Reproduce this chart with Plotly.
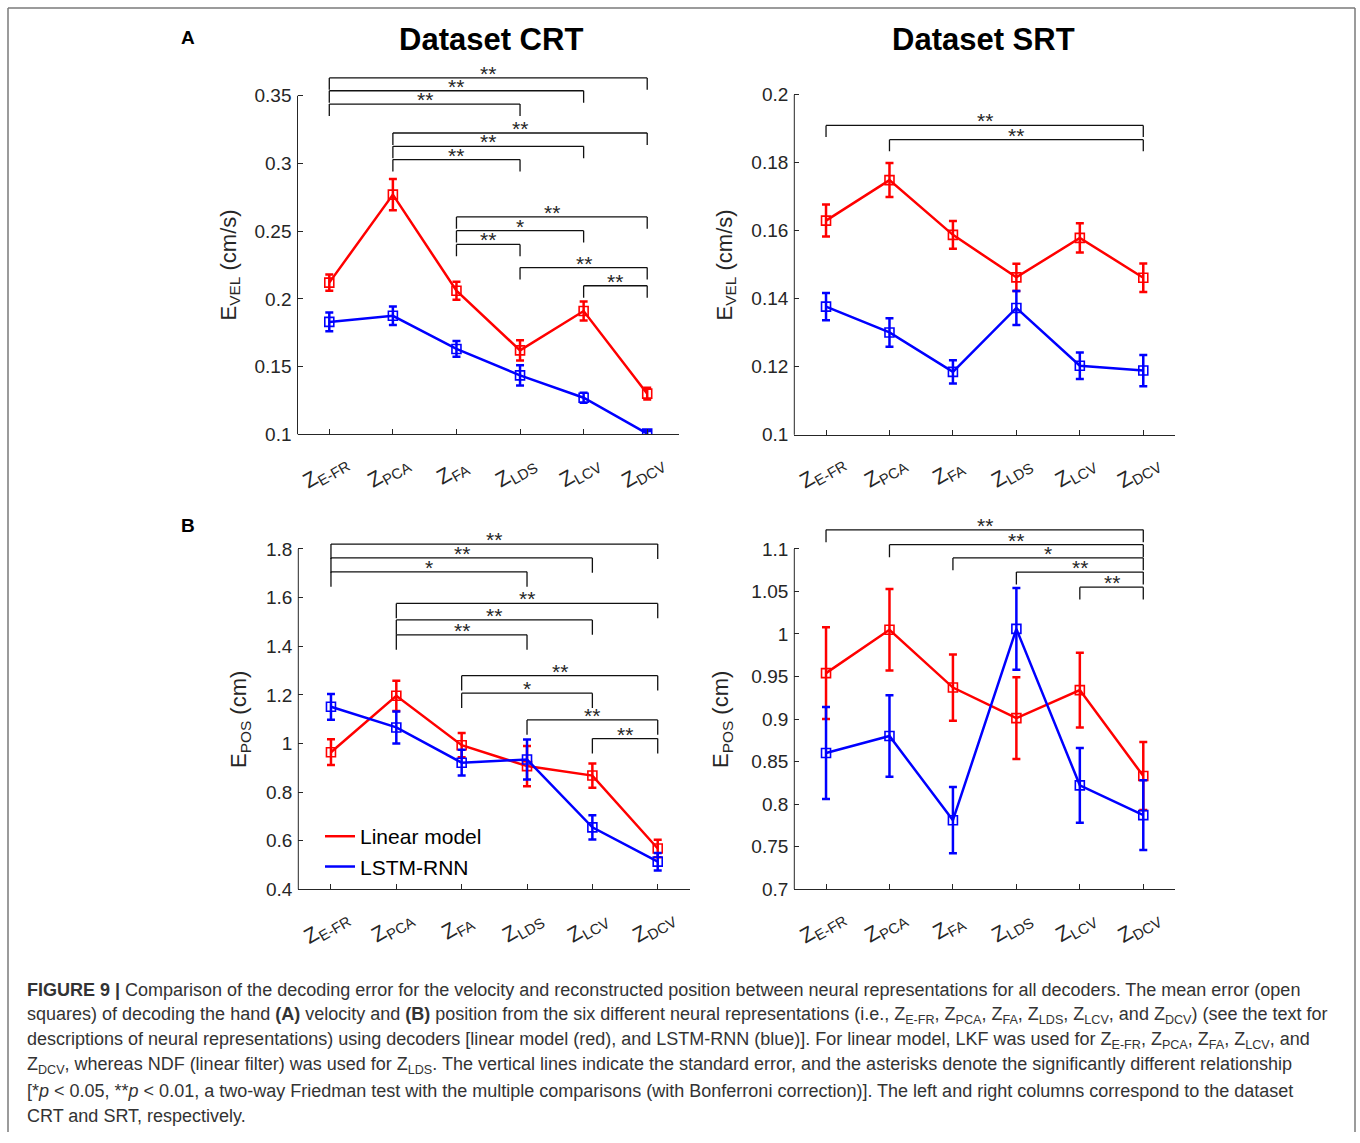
import plotly.graph_objects as go

W, H = 1360, 1143

# ---------------------------------------------------------------- data
categories = ["E-FR", "PCA", "FA", "LDS", "LCV", "DCV"]
tick_text = [f"Z<sub>{c}</sub>" for c in categories]
series_names = ["Linear model", "LSTM-RNN"]

# (A) velocity error, dataset CRT
crt_vel_linear = [0.212, 0.277, 0.206, 0.162, 0.191, 0.130]
crt_vel_linear_se = [0.006, 0.0115, 0.0067, 0.0075, 0.007, 0.0044]
crt_vel_lstm = [0.183, 0.1875, 0.163, 0.1435, 0.127, 0.1005]
crt_vel_lstm_se = [0.007, 0.0068, 0.0058, 0.0074, 0.0037, 0.002]

# (A) velocity error, dataset SRT
srt_vel_linear = [0.1630, 0.1749, 0.1588, 0.1463, 0.1579, 0.1462]
srt_vel_linear_se = [0.0047, 0.0050, 0.0041, 0.0040, 0.0043, 0.0042]
srt_vel_lstm = [0.1377, 0.1301, 0.1185, 0.1373, 0.1203, 0.1189]
srt_vel_lstm_se = [0.0040, 0.0042, 0.0034, 0.0050, 0.0039, 0.0046]

# (B) position error, dataset CRT
crt_pos_linear = [0.964, 1.196, 0.993, 0.907, 0.868, 0.568]
crt_pos_linear_se = [0.053, 0.062, 0.050, 0.083, 0.050, 0.036]
crt_pos_lstm = [1.151, 1.066, 0.921, 0.934, 0.655, 0.514]
crt_pos_lstm_se = [0.053, 0.066, 0.053, 0.082, 0.050, 0.036]

# (B) position error, dataset SRT
srt_pos_linear = [0.954, 1.005, 0.937, 0.901, 0.934, 0.833]
srt_pos_linear_se = [0.054, 0.048, 0.039, 0.048, 0.044, 0.040]
srt_pos_lstm = [0.860, 0.880, 0.781, 1.006, 0.822, 0.787]
srt_pos_lstm_se = [0.054, 0.048, 0.039, 0.048, 0.044, 0.041]

# significant pairs (category index a, category index b, label)
crt_vel_sig = [(0, 5, "**"), (0, 4, "**"), (0, 3, "**"),
               (1, 5, "**"), (1, 4, "**"), (1, 3, "**"),
               (2, 5, "**"), (2, 4, "*"), (2, 3, "**"),
               (3, 5, "**"), (4, 5, "**")]
srt_vel_sig = [(0, 5, "**"), (1, 5, "**")]
crt_pos_sig = [(0, 5, "**"), (0, 4, "**"), (0, 3, "*"),
               (1, 5, "**"), (1, 4, "**"), (1, 3, "**"),
               (2, 5, "**"), (2, 4, "*"),
               (3, 5, "**"), (4, 5, "**")]
srt_pos_sig = [(0, 5, "**"), (1, 5, "**"), (2, 5, "*"), (3, 5, "**"), (4, 5, "**")]

# ---------------------------------------------------------------- layout
RED, BLUE, INK = "#ff0000", "#0000ff", "#262626"
FONT = "Liberation Sans, Arial, Helvetica, sans-serif"

# pixel frame of each axes box and the heights of its comparison brackets
panels = [
    dict(xa="x", ya="y", x0=297.5, x1=679.0, ylo_px=438.5, yhi_px=96.7, top_px=52,
         lo=0.1, hi=0.35, step=0.05, title="E<sub>VEL</sub> (cm/s)", tx=230, ty=268,
         lin=(crt_vel_linear, crt_vel_linear_se), lstm=(crt_vel_lstm, crt_vel_lstm_se),
         sig=crt_vel_sig, levels=[0.3632, 0.3537, 0.3439, 0.3225, 0.3127, 0.3029,
                                  0.2605, 0.2504, 0.2402, 0.2231, 0.2097], leg=0.0088),
    dict(xa="x2", ya="y2", x0=794.3, x1=1175.0, ylo_px=439.0, yhi_px=95.7, top_px=52,
         lo=0.1, hi=0.2, step=0.02, title="E<sub>VEL</sub> (cm/s)", tx=726, ty=268,
         lin=(srt_vel_linear, srt_vel_linear_se), lstm=(srt_vel_lstm, srt_vel_lstm_se),
         sig=srt_vel_sig, levels=[0.1910, 0.1868], leg=0.0034),
    dict(xa="x3", ya="y3", x0=298.3, x1=690.4, ylo_px=898.0, yhi_px=554.3, top_px=528,
         lo=0.4, hi=1.8, step=0.2, title="E<sub>POS</sub> (cm)", tx=240, ty=727,
         lin=(crt_pos_linear, crt_pos_linear_se), lstm=(crt_pos_lstm, crt_pos_lstm_se),
         sig=crt_pos_sig, levels=[1.820, 1.763, 1.706, 1.576, 1.508, 1.447,
                                  1.279, 1.207, 1.097, 1.020], leg=0.061),
    dict(xa="x4", ya="y4", x0=794.3, x1=1175.0, ylo_px=897.7, yhi_px=554.3, top_px=512,
         lo=0.7, hi=1.1, step=0.05, title="E<sub>POS</sub> (cm)", tx=722, ty=727,
         lin=(srt_pos_linear, srt_pos_linear_se), lstm=(srt_pos_lstm, srt_pos_lstm_se),
         sig=srt_pos_sig, levels=[1.1225, 1.1050, 1.0895, 1.0728, 1.0551], leg=0.0146),
]

fig = go.Figure()
shapes, annotations = [], []
xpos = list(range(1, len(categories) + 1))


def px_to_paper_y(py):
    return 1 - py / H


for p in panels:
    per_px = (p["hi"] - p["lo"]) / (p["ylo_px"] - p["yhi_px"])
    y_top = p["hi"] + (p["yhi_px"] - p["top_px"]) * per_px
    n_ticks = int(round((p["hi"] - p["lo"]) / p["step"])) + 1
    tickvals = [round(p["lo"] + k * p["step"], 6) for k in range(n_ticks)]

    xkey = "xaxis" + p["xa"][1:]
    ykey = "yaxis" + p["ya"][1:]
    fig.update_layout(**{
        xkey: dict(domain=[p["x0"] / W, p["x1"] / W], anchor=p["ya"], range=[0.5, 6.5],
                   tickvals=xpos, showticklabels=False,
                   ticks="inside", ticklen=5, tickcolor=INK, tickwidth=1,
                   showline=True, linecolor=INK, linewidth=1, showgrid=False, zeroline=False,
                   fixedrange=True),
        ykey: dict(domain=[px_to_paper_y(p["ylo_px"]), px_to_paper_y(p["top_px"])],
                   anchor=p["xa"], range=[p["lo"], y_top],
                   tickvals=tickvals, ticktext=[f"{v:g}" for v in tickvals],
                   ticks="inside", ticklen=5, tickcolor=INK, tickwidth=1, ticklabelstandoff=5,
                   showline=False, showgrid=False, zeroline=False,
                   tickfont=dict(family=FONT, size=19, color=INK), fixedrange=True),
    })

    # y axis line only over the ticked span
    shapes.append(dict(type="line", xref="paper", yref="paper",
                       x0=p["x0"] / W, x1=p["x0"] / W,
                       y0=px_to_paper_y(p["ylo_px"]), y1=px_to_paper_y(p["yhi_px"]),
                       line=dict(color=INK, width=1)))

    # rotated category labels under the x axis
    spacing_px = (p["x1"] - p["x0"]) / len(categories)
    for i, txt in enumerate(tick_text):
        cx = p["x0"] + spacing_px * (i + 0.5) - 4
        annotations.append(dict(xref="paper", yref="paper", x=cx / W,
                                y=px_to_paper_y(p["ylo_px"] + 38), text=txt, textangle=-30,
                                showarrow=False, xanchor="center", yanchor="middle",
                                font=dict(family=FONT, size=21, color=INK)))

    for (vals, se), color in ((p["lin"], RED), (p["lstm"], BLUE)):
        fig.add_trace(go.Scatter(
            x=xpos, y=vals, xaxis=p["xa"], yaxis=p["ya"], mode="lines+markers",
            line=dict(color=color, width=2.5),
            marker=dict(symbol="square-open", size=9, color=color, line=dict(width=1.6, color=color)),
            error_y=dict(type="data", array=se, visible=True, color=color, thickness=2.5, width=4),
            showlegend=False, hoverinfo="skip"))

    # comparison brackets
    for (a, b, label), lvl in zip(p["sig"], p["levels"]):
        xa_, xb_ = xpos[a], xpos[b]
        for seg in ((xa_, lvl - p["leg"], xa_, lvl), (xa_, lvl, xb_, lvl), (xb_, lvl, xb_, lvl - p["leg"])):
            shapes.append(dict(type="line", xref=p["xa"], yref=p["ya"],
                               x0=seg[0], y0=seg[1], x1=seg[2], y1=seg[3],
                               line=dict(color="#111111", width=1.3)))
        annotations.append(dict(xref=p["xa"], yref=p["ya"], x=(xa_ + xb_) / 2, y=lvl,
                                text=label, showarrow=False, xanchor="center", yanchor="bottom",
                                yshift=-9, font=dict(family=FONT, size=21, color=INK)))

    annotations.append(dict(xref="paper", yref="paper", x=p["tx"] / W, y=px_to_paper_y(p["ty"]),
                            text=p["title"], textangle=-90, showarrow=False,
                            xanchor="center", yanchor="middle",
                            font=dict(family=FONT, size=22, color=INK)))

# legend entries (line samples only)
for name, color in zip(series_names, (RED, BLUE)):
    fig.add_trace(go.Scatter(x=[None], y=[None], xaxis="x3", yaxis="y3", mode="lines",
                             line=dict(color=color, width=2.5), name=name, showlegend=True))

# column titles and panel letters
for text, cx in (("Dataset CRT", 491), ("Dataset SRT", 983)):
    annotations.append(dict(xref="paper", yref="paper", x=cx / W, y=px_to_paper_y(40), text=f"<b>{text}</b>",
                            showarrow=False, xanchor="center", yanchor="middle",
                            font=dict(family=FONT, size=31, color="#000000")))
for text, cy in (("A", 38), ("B", 531)):
    annotations.append(dict(xref="paper", yref="paper", x=188 / W, y=px_to_paper_y(cy), text=f"<b>{text}</b>",
                            showarrow=False, xanchor="center", yanchor="middle",
                            font=dict(family=FONT, size=19, color="#000000")))

# caption
caption_lines = [
    "<b>FIGURE 9 |</b> Comparison of the decoding error for the velocity and reconstructed position between neural representations for all decoders. The mean error (open",
    "squares) of decoding the hand <b>(A)</b> velocity and <b>(B)</b> position from the six different neural representations (i.e., Z<sub>E-FR</sub>, Z<sub>PCA</sub>, Z<sub>FA</sub>, Z<sub>LDS</sub>, Z<sub>LCV</sub>, and Z<sub>DCV</sub>) (see the text for",
    "descriptions of neural representations) using decoders [linear model (red), and LSTM-RNN (blue)]. For linear model, LKF was used for Z<sub>E-FR</sub>, Z<sub>PCA</sub>, Z<sub>FA</sub>, Z<sub>LCV</sub>, and",
    "Z<sub>DCV</sub>, whereas NDF (linear filter) was used for Z<sub>LDS</sub>. The vertical lines indicate the standard error, and the asterisks denote the significantly different relationship",
    "[*<i>p</i> &lt; 0.05, **<i>p</i> &lt; 0.01, a two-way Friedman test with the multiple comparisons (with Bonferroni correction)]. The left and right columns correspond to the dataset",
    "CRT and SRT, respectively.",
]
for i, line in enumerate(caption_lines):
    annotations.append(dict(xref="paper", yref="paper", x=25 / W, y=px_to_paper_y(1000 + i * 25.4),
                            text=line, showarrow=False, xanchor="left", yanchor="middle",
                            font=dict(family=FONT, size=18, color="#333333")))

# outer frame: left, top and right edges, running to the bottom of the page
frame_l, frame_r, frame_t = 8 / W, 1355 / W, px_to_paper_y(8)
for x0, y0, x1, y1 in ((frame_l, 0, frame_l, frame_t), (frame_l, frame_t, frame_r, frame_t),
                       (frame_r, frame_t, frame_r, 0)):
    shapes.append(dict(type="line", xref="paper", yref="paper", x0=x0, y0=y0, x1=x1, y1=y1,
                       line=dict(color="#7a7a7a", width=1.5)))

fig.update_layout(
    width=W, height=H, margin=dict(l=0, r=0, t=0, b=0),
    paper_bgcolor="white", plot_bgcolor="white",
    shapes=shapes, annotations=annotations,
    showlegend=True,
    legend=dict(x=320 / W, y=px_to_paper_y(824), xanchor="left", yanchor="top",
                bgcolor="rgba(0,0,0,0)", font=dict(family=FONT, size=21, color="#000000"),
                itemwidth=30, tracegroupgap=0),
)

# the figure fills the page exactly, so drop the default body margin
fig.write_html(
    "out.html",
    post_script=("document.documentElement.style.margin='0';document.body.style.margin='0';"
                 "document.documentElement.style.overflow='hidden';document.body.style.overflow='hidden';"),
)
